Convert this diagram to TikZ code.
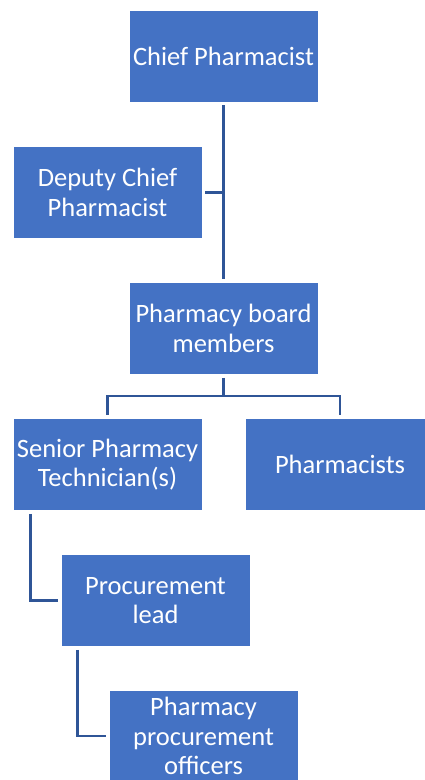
\documentclass[tikz,border=0pt]{standalone}
\usepackage{fontspec}
\setmainfont{Carlito}
\definecolor{boxblue}{HTML}{4472C4}
\definecolor{linkblue}{HTML}{2F5597}

\begin{document}
\begin{tikzpicture}[x=1pt, y=-1pt,
    role/.style={fill=boxblue, draw=white, line width=0.6pt, text=white,
      minimum width=189pt, minimum height=92pt, align=center, inner xsep=2pt,
      font=\fontsize{26.5}{29.5}\selectfont},
    link/.style={draw=linkblue, line width=2.6pt, shorten <=3pt, shorten >=3pt}]
  \useasboundingbox (0,0) rectangle (425,780);
  \node[role] (chief) at (223.5,56) {Chief Pharmacist};
  \node[role] (deputy) at (107.5,192.5) {Deputy Chief\\Pharmacist};
  \node[role] (board) at (223.5,328.5) {Pharmacy board\\members};
  \node[role] (senior) at (107.5,464.5) {Senior Pharmacy\\Technician(s)};
  \node[role] (pharm) at (340,464.5) {Pharmacists};
  \node[role] (lead) at (155.5,600.5) {Procurement\\lead};
  \node[role] (officers) at (203.5,736) {Pharmacy\\procurement\\officers};
  \draw[link] (chief.south) -- (board.north);
  \draw[link, shorten >=0pt] (deputy.east) -- (deputy.east -| chief.south);
  \coordinate (split) at ([yshift=-21pt]board.south);
  \draw[link, shorten >=0pt] (board.south) -- (split);
  \draw[link, shorten <=0pt] (split) -| (senior.north);
  \draw[link, shorten <=0pt] (split) -| (pharm.north);
  \draw[link] ([xshift=18pt]senior.south west) |- (lead.west);
  \draw[link] ([xshift=17pt]lead.south west) |- (officers.west);
\end{tikzpicture}
\end{document}
